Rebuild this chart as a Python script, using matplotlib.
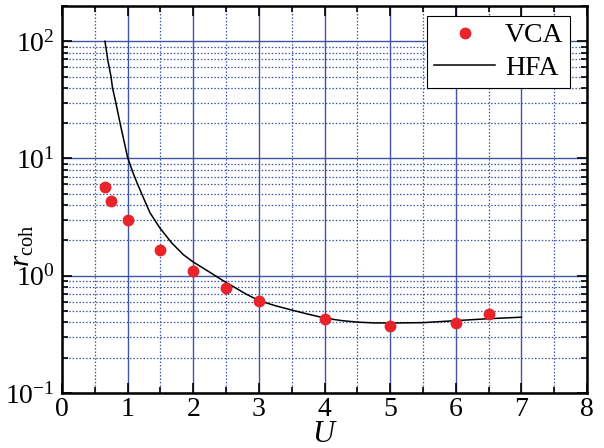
import numpy as np
import matplotlib
matplotlib.use('Agg')
import matplotlib.pyplot as plt
from matplotlib.ticker import LogLocator, MultipleLocator, NullFormatter

plt.rcParams['font.family'] = 'Liberation Serif'
plt.rcParams['mathtext.fontset'] = 'custom'
plt.rcParams['mathtext.rm'] = 'Liberation Serif'
plt.rcParams['mathtext.it'] = 'Liberation Serif:italic'

# VCA (puntos)
u_vca = [0.65, 0.75, 1.0, 1.5, 2.0, 2.5, 3.0, 4.0, 5.0, 6.0, 6.5]
r_vca = [5.7, 4.3, 3.0, 1.67, 1.10, 0.785, 0.61, 0.43, 0.375, 0.395, 0.47]

# HFA (curva)
u_hfa = [0.655, 0.70, 0.747, 0.77, 0.82, 0.885, 1.0, 1.08, 1.154, 1.24, 1.34, 1.49, 1.67,
         1.85, 2.0, 2.23, 2.48, 2.64, 2.8, 3.0, 3.25, 3.5, 3.75, 4.0, 4.25, 4.5,
         4.75, 5.0, 5.5, 6.0, 6.5, 7.0]
r_hfa = [100, 68, 50, 40, 30, 20, 10.2, 7.6, 6.0, 4.63, 3.45, 2.56, 1.91,
         1.51, 1.31, 1.09, 0.89, 0.79, 0.70, 0.614, 0.555, 0.51, 0.47, 0.436, 0.415, 0.402,
         0.396, 0.395, 0.398, 0.414, 0.43, 0.443]

fig = plt.figure(figsize=(6.04, 4.48), dpi=100)
ax = fig.add_axes([0.1026, 0.1228, 0.8694, 0.864])

ax.plot(u_vca, r_vca, 'o', color='#e8232a', markersize=7.5, label='VCA', zorder=3)
ax.plot(u_hfa, r_hfa, '-', color='black', lw=1.1, label='HFA', zorder=2)

ax.set_yscale('log')
ax.set_xlim(0, 8)
ax.set_ylim(0.1, 200)
ax.xaxis.set_major_locator(MultipleLocator(1))
ax.xaxis.set_minor_locator(MultipleLocator(0.5))
ax.yaxis.set_major_locator(LogLocator(base=10, numticks=10))
ax.yaxis.set_minor_locator(LogLocator(base=10, subs=np.arange(2, 10), numticks=20))
ax.yaxis.set_minor_formatter(NullFormatter())

ax.grid(which='major', color='#3f56a6', lw=1.0, ls='-')
ax.grid(which='minor', color='#3f56a6', lw=0.9, ls=(0, (1.2, 1.5)))
ax.set_axisbelow(True)

ax.tick_params(which='both', direction='in', top=True, right=True, labelsize=20, width=1.2)
ax.tick_params(which='major', length=7)
ax.tick_params(which='minor', length=4)
ax.tick_params(axis='x', pad=3)
ax.tick_params(axis='y', pad=5)
for s in ax.spines.values():
    s.set_linewidth(1.8)

ax.set_xlabel('$U$', fontsize=22)
ax.xaxis.set_label_coords(0.5, -0.07)
ax.set_ylabel(r'$r_{\rm coh}$', fontsize=21)
ax.yaxis.set_label_coords(-0.05, 0.38)

leg = ax.legend(loc='upper right', fontsize=20, frameon=True, fancybox=False,
                edgecolor='black', framealpha=1, borderpad=0.25, handlelength=2.2,
                handletextpad=0.35, labelspacing=0.25, borderaxespad=0,
                bbox_to_anchor=(0.968, 0.974))
leg.get_frame().set_linewidth(0.8)

plt.savefig('out.png', dpi=100)
